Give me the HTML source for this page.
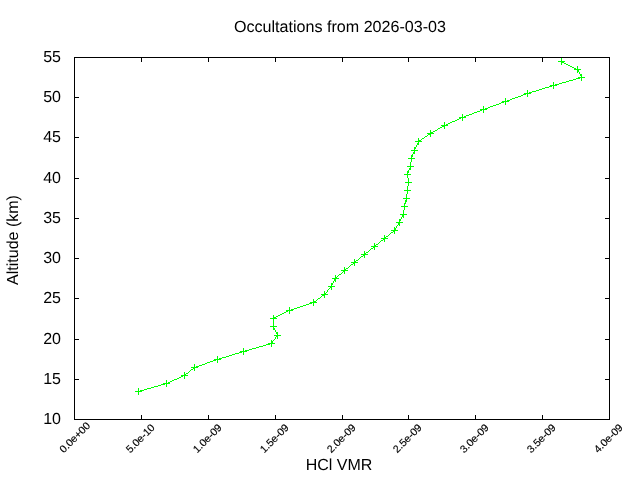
<!DOCTYPE html>
<html><head><meta charset="utf-8"><style>
html,body{margin:0;padding:0;background:#fff;width:640px;height:480px;overflow:hidden}
svg{display:block;will-change:transform}
text{font-family:"Liberation Sans",sans-serif;fill:#000;text-rendering:geometricPrecision}
</style></head><body>
<svg width="640" height="480" viewBox="0 0 640 480">
<rect width="640" height="480" fill="#fff"/>
<path d="M74 379.5h5M610 379.5h-5M74 339.5h5M610 339.5h-5M74 298.5h5M610 298.5h-5M74 258.5h5M610 258.5h-5M74 218.5h5M610 218.5h-5M74 178.5h5M610 178.5h-5M74 137.5h5M610 137.5h-5M74 97.5h5M610 97.5h-5M141.5 420v-5M141.5 57v5M208.5 420v-5M208.5 57v5M275.5 420v-5M275.5 57v5M342.5 420v-5M342.5 57v5M408.5 420v-5M408.5 57v5M475.5 420v-5M475.5 57v5M542.5 420v-5M542.5 57v5" stroke="#000" stroke-width="1" fill="none"/>
<rect x="74.5" y="57.5" width="535" height="362" stroke="#000" stroke-width="1" fill="none"/>
<text x="61" y="424" text-anchor="end" font-size="16">10</text>
<text x="61" y="384" text-anchor="end" font-size="16">15</text>
<text x="61" y="344" text-anchor="end" font-size="16">20</text>
<text x="61" y="303" text-anchor="end" font-size="16">25</text>
<text x="61" y="263" text-anchor="end" font-size="16">30</text>
<text x="61" y="223" text-anchor="end" font-size="16">35</text>
<text x="61" y="183" text-anchor="end" font-size="16">40</text>
<text x="61" y="142" text-anchor="end" font-size="16">45</text>
<text x="61" y="102" text-anchor="end" font-size="16">50</text>
<text x="61" y="62" text-anchor="end" font-size="16">55</text>
<text transform="translate(90.80000000000001 426.40000000000003) rotate(-45)" text-anchor="end" font-size="10.5" stroke="#000" stroke-width="0.15">0.0e+00</text>
<text transform="translate(155.4 428.3) rotate(-45)" text-anchor="end" font-size="10.5" stroke="#000" stroke-width="0.15">5.0e-10</text>
<text transform="translate(222.4 428.3) rotate(-45)" text-anchor="end" font-size="10.5" stroke="#000" stroke-width="0.15">1.0e-09</text>
<text transform="translate(289.4 428.3) rotate(-45)" text-anchor="end" font-size="10.5" stroke="#000" stroke-width="0.15">1.5e-09</text>
<text transform="translate(356.4 428.3) rotate(-45)" text-anchor="end" font-size="10.5" stroke="#000" stroke-width="0.15">2.0e-09</text>
<text transform="translate(422.4 428.3) rotate(-45)" text-anchor="end" font-size="10.5" stroke="#000" stroke-width="0.15">2.5e-09</text>
<text transform="translate(489.4 428.3) rotate(-45)" text-anchor="end" font-size="10.5" stroke="#000" stroke-width="0.15">3.0e-09</text>
<text transform="translate(556.4 428.3) rotate(-45)" text-anchor="end" font-size="10.5" stroke="#000" stroke-width="0.15">3.5e-09</text>
<text transform="translate(623.4 428.3) rotate(-45)" text-anchor="end" font-size="10.5" stroke="#000" stroke-width="0.15">4.0e-09</text>
<text x="340" y="32" text-anchor="middle" font-size="16.1">Occultations from 2026-03-03</text>
<text x="339" y="470" text-anchor="middle" font-size="16">HCl VMR</text>
<text transform="translate(18 240) rotate(-90)" text-anchor="middle" font-size="16">Altitude (km)</text>
<path d="M561 58h1v1h-1zM561 59h1v1h-1zM561 60h1v1h-1zM558 61h7v1h-7zM561 62h3v1h-3zM561 63h1v1h-1zM564 63h2v1h-2zM561 64h1v1h-1zM566 64h2v1h-2zM568 65h2v1h-2zM570 66h2v1h-2zM577 66h1v1h-1zM572 67h2v1h-2zM577 67h1v1h-1zM574 68h2v1h-2zM577 68h1v1h-1zM574 69h7v1h-7zM577 70h2v1h-2zM577 71h2v1h-2zM577 72h1v1h-1zM579 72h1v1h-1zM579 73h1v1h-1zM580 74h2v1h-2zM580 75h2v1h-2zM581 76h1v1h-1zM578 77h7v1h-7zM576 78h4v1h-4zM581 78h1v1h-1zM573 79h3v1h-3zM581 79h1v1h-1zM569 80h4v1h-4zM581 80h1v1h-1zM566 81h3v1h-3zM553 82h1v1h-1zM562 82h4v1h-4zM553 83h1v1h-1zM559 83h3v1h-3zM553 84h1v1h-1zM555 84h4v1h-4zM550 85h7v1h-7zM549 86h3v1h-3zM553 86h1v1h-1zM545 87h4v1h-4zM553 87h1v1h-1zM542 88h3v1h-3zM553 88h1v1h-1zM539 89h3v1h-3zM527 90h1v1h-1zM536 90h3v1h-3zM527 91h1v1h-1zM532 91h4v1h-4zM527 92h1v1h-1zM529 92h3v1h-3zM524 93h7v1h-7zM523 94h3v1h-3zM527 94h1v1h-1zM521 95h2v1h-2zM527 95h1v1h-1zM518 96h3v1h-3zM527 96h1v1h-1zM515 97h3v1h-3zM505 98h1v1h-1zM512 98h3v1h-3zM505 99h1v1h-1zM510 99h2v1h-2zM505 100h1v1h-1zM507 100h3v1h-3zM502 101h7v1h-7zM501 102h3v1h-3zM505 102h1v1h-1zM499 103h2v1h-2zM505 103h1v1h-1zM496 104h3v1h-3zM505 104h1v1h-1zM493 105h3v1h-3zM483 106h1v1h-1zM490 106h3v1h-3zM483 107h1v1h-1zM488 107h2v1h-2zM483 108h1v1h-1zM485 108h3v1h-3zM480 109h7v1h-7zM480 110h2v1h-2zM483 110h1v1h-1zM477 111h3v1h-3zM483 111h1v1h-1zM474 112h3v1h-3zM483 112h1v1h-1zM472 113h2v1h-2zM462 114h1v1h-1zM469 114h3v1h-3zM462 115h1v1h-1zM466 115h3v1h-3zM462 116h1v1h-1zM464 116h2v1h-2zM459 117h7v1h-7zM459 118h2v1h-2zM462 118h1v1h-1zM457 119h2v1h-2zM462 119h1v1h-1zM455 120h2v1h-2zM462 120h1v1h-1zM452 121h3v1h-3zM444 122h1v1h-1zM450 122h2v1h-2zM444 123h1v1h-1zM448 123h2v1h-2zM444 124h1v1h-1zM446 124h2v1h-2zM441 125h7v1h-7zM442 126h3v1h-3zM440 127h2v1h-2zM444 127h1v1h-1zM438 128h2v1h-2zM444 128h1v1h-1zM437 129h1v1h-1zM430 130h1v1h-1zM435 130h2v1h-2zM430 131h1v1h-1zM433 131h2v1h-2zM430 132h3v1h-3zM427 133h7v1h-7zM428 134h3v1h-3zM427 135h1v1h-1zM430 135h1v1h-1zM425 136h2v1h-2zM430 136h1v1h-1zM424 137h1v1h-1zM418 138h1v1h-1zM422 138h2v1h-2zM418 139h1v1h-1zM421 139h1v1h-1zM418 140h3v1h-3zM415 141h7v1h-7zM418 142h1v1h-1zM417 143h2v1h-2zM417 144h2v1h-2zM416 145h1v1h-1zM416 146h1v1h-1zM414 147h2v1h-2zM414 148h2v1h-2zM414 149h1v1h-1zM411 150h7v1h-7zM414 151h1v1h-1zM413 152h2v1h-2zM413 153h2v1h-2zM412 154h1v1h-1zM411 155h2v1h-2zM411 156h2v1h-2zM411 157h1v1h-1zM408 158h7v1h-7zM411 159h1v1h-1zM411 160h1v1h-1zM411 161h1v1h-1zM410 162h1v1h-1zM410 163h1v1h-1zM410 164h1v1h-1zM410 165h1v1h-1zM407 166h7v1h-7zM410 167h1v1h-1zM409 168h2v1h-2zM409 169h2v1h-2zM408 170h1v1h-1zM407 171h2v1h-2zM407 172h2v1h-2zM407 173h1v1h-1zM404 174h7v1h-7zM407 175h1v1h-1zM407 176h1v1h-1zM407 177h1v1h-1zM408 178h1v1h-1zM408 179h1v1h-1zM408 180h1v1h-1zM408 181h1v1h-1zM405 182h7v1h-7zM408 183h1v1h-1zM408 184h1v1h-1zM408 185h1v1h-1zM407 186h1v1h-1zM407 187h1v1h-1zM407 188h1v1h-1zM407 189h1v1h-1zM404 190h7v1h-7zM407 191h1v1h-1zM407 192h1v1h-1zM407 193h1v1h-1zM406 194h1v1h-1zM406 195h1v1h-1zM406 196h1v1h-1zM406 197h1v1h-1zM403 198h7v1h-7zM406 199h1v1h-1zM405 200h2v1h-2zM405 201h2v1h-2zM405 202h1v1h-1zM404 203h2v1h-2zM404 204h1v1h-1zM404 205h1v1h-1zM401 206h7v1h-7zM404 207h1v1h-1zM404 208h1v1h-1zM404 209h1v1h-1zM403 210h1v1h-1zM403 211h1v1h-1zM403 212h1v1h-1zM403 213h1v1h-1zM400 214h7v1h-7zM402 215h2v1h-2zM402 216h2v1h-2zM401 217h1v1h-1zM403 217h1v1h-1zM401 218h1v1h-1zM399 219h2v1h-2zM399 220h2v1h-2zM399 221h1v1h-1zM396 222h7v1h-7zM398 223h2v1h-2zM398 224h2v1h-2zM397 225h1v1h-1zM399 225h1v1h-1zM396 226h1v1h-1zM394 227h1v1h-1zM396 227h1v1h-1zM394 228h2v1h-2zM394 229h2v1h-2zM391 230h7v1h-7zM393 231h2v1h-2zM391 232h2v1h-2zM394 232h1v1h-1zM390 233h1v1h-1zM394 233h1v1h-1zM389 234h1v1h-1zM384 235h1v1h-1zM388 235h1v1h-1zM384 236h1v1h-1zM386 236h2v1h-2zM384 237h2v1h-2zM381 238h7v1h-7zM383 239h2v1h-2zM381 240h2v1h-2zM384 240h1v1h-1zM380 241h1v1h-1zM384 241h1v1h-1zM379 242h1v1h-1zM374 243h1v1h-1zM378 243h1v1h-1zM374 244h1v1h-1zM376 244h2v1h-2zM374 245h2v1h-2zM371 246h7v1h-7zM373 247h2v1h-2zM371 248h2v1h-2zM374 248h1v1h-1zM370 249h1v1h-1zM374 249h1v1h-1zM369 250h1v1h-1zM364 251h1v1h-1zM368 251h1v1h-1zM364 252h1v1h-1zM366 252h2v1h-2zM364 253h2v1h-2zM361 254h7v1h-7zM363 255h2v1h-2zM361 256h2v1h-2zM364 256h1v1h-1zM360 257h1v1h-1zM364 257h1v1h-1zM359 258h1v1h-1zM354 259h1v1h-1zM358 259h1v1h-1zM354 260h1v1h-1zM356 260h2v1h-2zM354 261h2v1h-2zM351 262h7v1h-7zM353 263h2v1h-2zM351 264h2v1h-2zM354 264h1v1h-1zM350 265h1v1h-1zM354 265h1v1h-1zM349 266h1v1h-1zM344 267h1v1h-1zM348 267h1v1h-1zM344 268h1v1h-1zM346 268h2v1h-2zM344 269h2v1h-2zM341 270h7v1h-7zM343 271h2v1h-2zM342 272h1v1h-1zM344 272h1v1h-1zM341 273h1v1h-1zM344 273h1v1h-1zM339 274h2v1h-2zM335 275h1v1h-1zM338 275h1v1h-1zM335 276h1v1h-1zM337 276h1v1h-1zM335 277h2v1h-2zM332 278h7v1h-7zM334 279h2v1h-2zM334 280h2v1h-2zM333 281h1v1h-1zM335 281h1v1h-1zM333 282h1v1h-1zM331 283h2v1h-2zM331 284h2v1h-2zM331 285h1v1h-1zM328 286h7v1h-7zM330 287h2v1h-2zM329 288h1v1h-1zM331 288h1v1h-1zM328 289h1v1h-1zM331 289h1v1h-1zM327 290h1v1h-1zM324 291h1v1h-1zM327 291h1v1h-1zM324 292h1v1h-1zM326 292h1v1h-1zM324 293h2v1h-2zM321 294h7v1h-7zM322 295h3v1h-3zM321 296h1v1h-1zM324 296h1v1h-1zM320 297h1v1h-1zM324 297h1v1h-1zM318 298h2v1h-2zM313 299h1v1h-1zM317 299h1v1h-1zM313 300h1v1h-1zM316 300h1v1h-1zM313 301h3v1h-3zM310 302h7v1h-7zM309 303h3v1h-3zM313 303h1v1h-1zM306 304h3v1h-3zM313 304h1v1h-1zM303 305h3v1h-3zM313 305h1v1h-1zM300 306h3v1h-3zM289 307h1v1h-1zM297 307h3v1h-3zM289 308h1v1h-1zM294 308h3v1h-3zM289 309h1v1h-1zM291 309h3v1h-3zM286 310h7v1h-7zM286 311h2v1h-2zM289 311h1v1h-1zM284 312h2v1h-2zM289 312h1v1h-1zM282 313h2v1h-2zM289 313h1v1h-1zM280 314h2v1h-2zM273 315h1v1h-1zM278 315h2v1h-2zM273 316h1v1h-1zM276 316h2v1h-2zM273 317h3v1h-3zM270 318h7v1h-7zM273 319h1v1h-1zM273 320h1v1h-1zM273 321h1v1h-1zM273 322h1v1h-1zM273 323h1v1h-1zM273 324h1v1h-1zM273 325h1v1h-1zM270 326h7v1h-7zM273 327h1v1h-1zM273 328h2v1h-2zM273 329h2v1h-2zM275 330h1v1h-1zM275 331h1v1h-1zM276 332h2v1h-2zM276 333h2v1h-2zM277 334h1v1h-1zM274 335h7v1h-7zM276 336h2v1h-2zM275 337h1v1h-1zM277 337h1v1h-1zM275 338h1v1h-1zM277 338h1v1h-1zM274 339h1v1h-1zM271 340h1v1h-1zM273 340h1v1h-1zM271 341h2v1h-2zM271 342h2v1h-2zM268 343h7v1h-7zM266 344h4v1h-4zM271 344h1v1h-1zM263 345h3v1h-3zM271 345h1v1h-1zM259 346h4v1h-4zM271 346h1v1h-1zM256 347h3v1h-3zM243 348h1v1h-1zM252 348h4v1h-4zM243 349h1v1h-1zM249 349h3v1h-3zM243 350h1v1h-1zM245 350h4v1h-4zM240 351h7v1h-7zM239 352h3v1h-3zM243 352h1v1h-1zM235 353h4v1h-4zM243 353h1v1h-1zM232 354h3v1h-3zM243 354h1v1h-1zM229 355h3v1h-3zM217 356h1v1h-1zM226 356h3v1h-3zM217 357h1v1h-1zM222 357h4v1h-4zM217 358h1v1h-1zM219 358h3v1h-3zM214 359h7v1h-7zM213 360h3v1h-3zM217 360h1v1h-1zM210 361h3v1h-3zM217 361h1v1h-1zM207 362h3v1h-3zM217 362h1v1h-1zM205 363h2v1h-2zM194 364h1v1h-1zM202 364h3v1h-3zM194 365h1v1h-1zM199 365h3v1h-3zM194 366h1v1h-1zM196 366h3v1h-3zM191 367h7v1h-7zM193 368h2v1h-2zM191 369h2v1h-2zM194 369h1v1h-1zM190 370h1v1h-1zM194 370h1v1h-1zM189 371h1v1h-1zM184 372h1v1h-1zM188 372h1v1h-1zM184 373h1v1h-1zM186 373h2v1h-2zM184 374h2v1h-2zM181 375h7v1h-7zM181 376h2v1h-2zM184 376h1v1h-1zM179 377h2v1h-2zM184 377h1v1h-1zM177 378h2v1h-2zM184 378h1v1h-1zM174 379h3v1h-3zM166 380h1v1h-1zM172 380h2v1h-2zM166 381h1v1h-1zM170 381h2v1h-2zM166 382h1v1h-1zM168 382h2v1h-2zM163 383h7v1h-7zM161 384h4v1h-4zM166 384h1v1h-1zM158 385h3v1h-3zM166 385h1v1h-1zM154 386h4v1h-4zM166 386h1v1h-1zM151 387h3v1h-3zM138 388h1v1h-1zM147 388h4v1h-4zM138 389h1v1h-1zM144 389h3v1h-3zM138 390h1v1h-1zM140 390h4v1h-4zM135 391h7v1h-7zM138 392h1v1h-1zM138 393h1v1h-1zM138 394h1v1h-1z" fill="#00ff00" shape-rendering="crispEdges"/>
</svg>
</body></html>
